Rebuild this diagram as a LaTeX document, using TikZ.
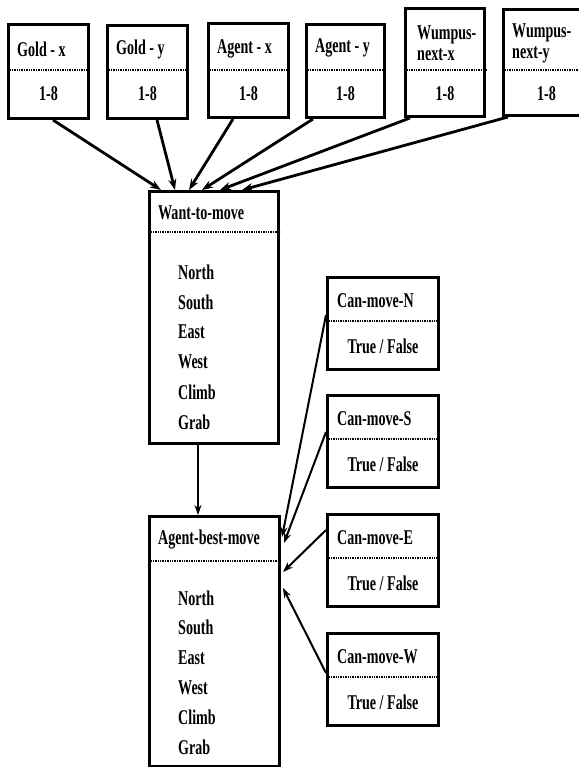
\documentclass[tikz,border=0pt]{standalone}
\usepackage{fontspec}
\setmainfont{Liberation Serif}[FakeStretch=0.67]
\usetikzlibrary{arrows.meta,calc}
\begin{document}
\begin{tikzpicture}[x=1pt,y=-1pt,
  box/.style={draw,line width=3pt,rectangle,anchor=north west,inner sep=0pt},
  divline/.style={line width=2.4pt,dash pattern=on 1.3pt off 1.1pt},
  lbl/.style={font=\fontsize{21}{23}\selectfont\bfseries,inner sep=0pt},
  ttl/.style={lbl,anchor=west},
  val/.style={lbl,anchor=center},
  bigarrow/.style={line width=2.8pt,-{Stealth[length=11pt,width=8pt]}},
  smallarrow/.style={line width=2pt,-{Stealth[length=10pt,width=7pt]}}]
\useasboundingbox (0,0) rectangle (578,767);

% ---- top boxes ----
\node[box,minimum width=80pt,minimum height=94pt] (goldx) at (7,23) {};
\draw[divline] ($(goldx.north west)+(0,47)$) -- ($(goldx.north east)+(0,47)$);
\node[ttl] (goldxt) at ($(goldx.north west)+(10,26)$) {Gold - x};
\node[val] (goldxv) at ($(goldx.north)+(0,71)$) {1-8};

\node[box,minimum width=80pt,minimum height=93pt] (goldy) at (106,24) {};
\draw[divline] ($(goldy.north west)+(0,46)$) -- ($(goldy.north east)+(0,46)$);
\node[ttl] (goldyt) at ($(goldy.north west)+(10,25)$) {Gold - y};
\node[val] (goldyv) at ($(goldy.north)+(0,70)$) {1-8};

\node[box,minimum width=80pt,minimum height=94pt] (agentx) at (207,22) {};
\draw[divline] ($(agentx.north west)+(0,48)$) -- ($(agentx.north east)+(0,48)$);
\node[ttl] (agentxt) at ($(agentx.north west)+(10,27)$) {Agent - x};
\node[val] (agentxv) at ($(agentx.north)+(0,72)$) {1-8};

\node[box,minimum width=78pt,minimum height=93pt] (agenty) at (305,23) {};
\draw[divline] ($(agenty.north west)+(0,47)$) -- ($(agenty.north east)+(0,47)$);
\node[ttl] (agentyt) at ($(agenty.north west)+(10,25)$) {Agent - y};
\node[val] (agentyv) at ($(agenty.north)+(0,71)$) {1-8};

\node[box,minimum width=79pt,minimum height=108pt] (wnx) at (404,7) {};
\draw[divline] ($(wnx.north west)+(0,63)$) -- ($(wnx.north east)+(0,63)$);
\node[ttl,align=left,font=\fontsize{21}{21}\selectfont\bfseries] (wnxt) at ($(wnx.north west)+(13,36)$) {Wumpus-\\next-x};
\node[val] (wnxv) at ($(wnx.north)+(0,87)$) {1-8};

\node[box,minimum width=86pt,minimum height=106pt] (wny) at (502,8) {};
\draw[divline] ($(wny.north west)+(0,62)$) -- ($(wny.north east)+(0,62)$);
\node[ttl,align=left,font=\fontsize{21}{21}\selectfont\bfseries] (wnyt) at ($(wny.north west)+(10,35)$) {Wumpus-\\next-y};
\node[val] (wnyv) at ($(wny.north)+(0,86)$) {1-8};

% ---- Want-to-move ----
\node[box,minimum width=129pt,minimum height=252pt] (want) at (148,190) {};
\draw[divline] ($(want.north west)+(0,42)$) -- ($(want.north east)+(0,42)$);
\node[ttl] (wantt) at ($(want.north west)+(10,23)$) {Want-to-move};
\foreach \t [count=\i] in {North,South,East,West,Climb,Grab}
  \node[ttl] (wanti\i) at ($(want.north west)+(30,52+30*\i)$) {\t};

% ---- Agent-best-move ----
\node[box,minimum width=130pt,minimum height=250pt] (abm) at (148,515) {};
\draw[divline] ($(abm.north west)+(0,46)$) -- ($(abm.north east)+(0,46)$);
\node[ttl] (abmt) at ($(abm.north west)+(10,25)$) {Agent-best-move};
\foreach \t [count=\i] in {North,South,East,West,Climb,Grab}
  \node[ttl] (abmi\i) at ($(abm.north west)+(30,53.2+29.8*\i)$) {\t};

% ---- Can-move boxes ----
\foreach \n/\d/\tp in {cmn/N/276,cms/S/394,cme/E/513,cmw/W/632}{
  \node[box,minimum width=111pt,minimum height=92pt] (\n) at (326,\tp) {};
  \draw[divline] ($(\n.north west)+(0,45)$) -- ($(\n.north east)+(0,45)$);
  \node[ttl] (\n t) at ($(\n.north west)+(11,25)$) {Can-move-\d};
  \node[val] (\n v) at ($(\n.north)+(0,70)$) {True / False};
}

% ---- connectors ----
\draw[bigarrow] ($(goldx.south west)+(46,0)$) -- ($(want.north west)+(13,0)$);
\draw[bigarrow] ($(goldy.south west)+(51,0)$) -- ($(want.north west)+(27,0)$);
\draw[bigarrow] ($(agentx.south west)+(26,0)$) -- ($(want.north west)+(41,0)$);
\draw[bigarrow] ($(agenty.south west)+(8,0)$) -- ($(want.north west)+(54,0)$);
\draw[bigarrow] ($(wnx.south west)+(6,0)$) -- ($(want.north west)+(72,0)$);
\draw[bigarrow] ($(wny.south west)+(6,0)$) -- ($(want.north west)+(94,0)$);

\draw[smallarrow] ($(want.south west)+(50,0)$) -- ($(abm.north west)+(50,0)$);

\draw[smallarrow] ($(cmn.north west)+(0,39)$) -- ($(abm.north east)+(1,22)$);
\draw[smallarrow] ($(cms.north west)+(0,38)$) -- ($(abm.north east)+(3,28)$);
\draw[smallarrow] ($(cme.north west)+(0,17)$) -- ($(abm.north east)+(2,57)$);
\draw[smallarrow] ($(cmw.north west)+(0,41)$) -- ($(abm.north east)+(2,73)$);
\end{tikzpicture}
\end{document}
